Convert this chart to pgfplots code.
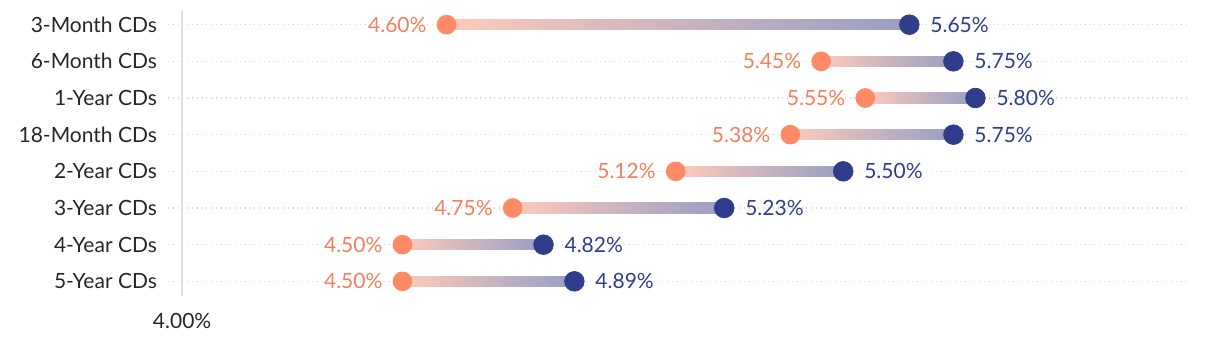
\documentclass[border=0pt]{standalone}
\usepackage{pgfplots}
\pgfplotsset{compat=1.18}
\usepackage{pgfplotstable}
\usepackage{fontspec}
\setmainfont{Lato}
\definecolor{coral}{HTML}{FF8A66}
\definecolor{coraltxt}{HTML}{F47F5E}
\definecolor{navy}{HTML}{303D8B}
\definecolor{gridc}{HTML}{D4D4D4}

\pgfplotstableread{
y lo hi
8 4.60 5.65
7 5.45 5.75
6 5.55 5.80
5 5.38 5.75
4 5.12 5.50
3 4.75 5.23
2 4.50 4.82
1 4.50 4.89
}\cddata

\newcommand{\dbar}[3]{%
  \addplot[draw=none, forget plot, shading=axis, left color=coral!45!white, right color=navy!50!white]
    coordinates {(#2,#1-0.145) (#3,#1-0.145) (#3,#1+0.145) (#2,#1+0.145)} -- cycle;}
\newcommand{\lblfont}{\fontsize{10.5}{12}\selectfont}

\begin{document}
\begin{tikzpicture}
\begin{axis}[
  scale only axis,
  width=509.5pt, height=143pt,
  xmin=3.968, xmax=6.28,
  ymin=0.6, ymax=8.4,
  axis line style={draw=none},
  xtick={4}, xticklabels={4.00\%},
  ytick={1,2,3,4,5,6,7,8},
  yticklabels={5-Year CDs,4-Year CDs,3-Year CDs,2-Year CDs,18-Month CDs,1-Year CDs,6-Month CDs,3-Month CDs},
  major tick length=0pt,
  tick style={draw=none},
  ymajorgrids,
  grid style={dotted, draw=gridc, line width=0.8pt},
  tick label style={font=\lblfont, text=black!85},
  y tick label style={anchor=east, xshift=-2pt},
  x tick label style={yshift=-5pt},
  /pgf/number format/assume math mode=true,
  clip=false,
]
\draw[black!12, line width=1.1pt] (axis cs:4,0.6) -- (axis cs:4,8.4);
\dbar{8}{4.60}{5.65}
\dbar{7}{5.45}{5.75}
\dbar{6}{5.55}{5.80}
\dbar{5}{5.38}{5.75}
\dbar{4}{5.12}{5.50}
\dbar{3}{4.75}{5.23}
\dbar{2}{4.50}{4.82}
\dbar{1}{4.50}{4.89}
\addplot[only marks, mark=*, mark size=4.7pt, color=coral,
  point meta=x,
  nodes near coords={\pgfmathprintnumber[fixed,fixed zerofill,precision=2,assume math mode=true]{\pgfplotspointmeta}\%},
  nodes near coords style={anchor=east, xshift=-6.5pt, text=coraltxt, font=\lblfont}]
  table[x=lo, y=y] {\cddata};
\addplot[only marks, mark=*, mark size=4.9pt, color=navy,
  point meta=x,
  nodes near coords={\pgfmathprintnumber[fixed,fixed zerofill,precision=2,assume math mode=true]{\pgfplotspointmeta}\%},
  nodes near coords style={anchor=west, xshift=7pt, text=navy, font=\lblfont}]
  table[x=hi, y=y] {\cddata};
\end{axis}
\pgfresetboundingbox
\path[use as bounding box] (-84pt,-25pt) rectangle (526pt,148pt);
\end{tikzpicture}
\end{document}
